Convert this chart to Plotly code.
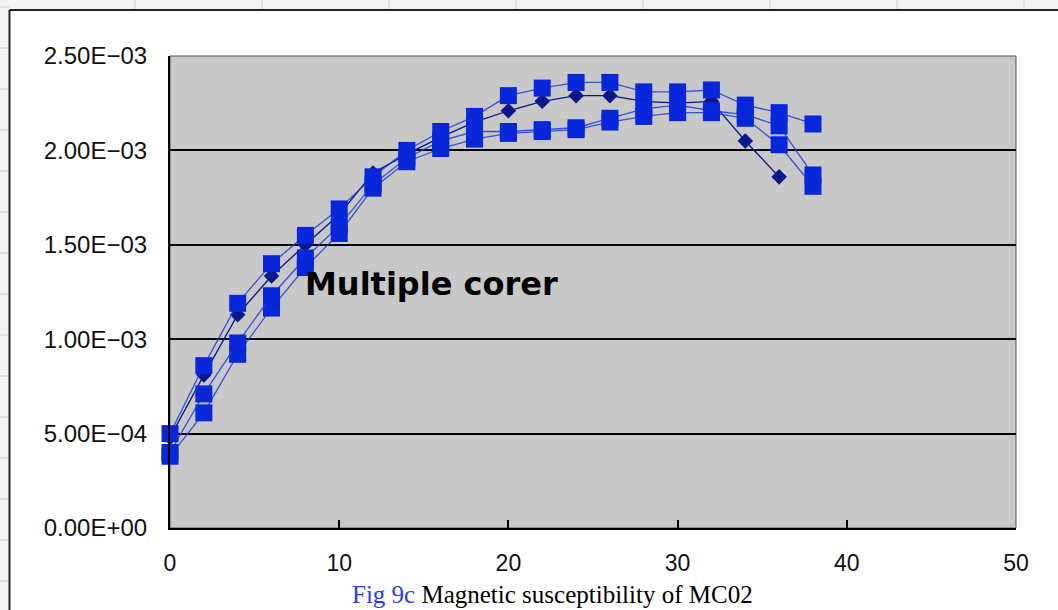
import plotly.graph_objects as go

# Depth (cm) and magnetic susceptibility readings for the MC02 cores
depth = [0, 2, 4, 6, 8, 10, 12, 14, 16, 18, 20, 22, 24, 26, 28, 30, 32, 34, 36, 38]

core_diamond = [0.48e-3, 0.81e-3, 1.13e-3, 1.335e-3, 1.50e-3, 1.66e-3, 1.88e-3, 1.98e-3, 2.07e-3,
                2.15e-3, 2.21e-3, 2.26e-3, 2.29e-3, 2.29e-3, 2.26e-3, 2.25e-3, 2.26e-3, 2.05e-3, 1.86e-3]
core_a = [0.50e-3, 0.86e-3, 1.19e-3, 1.40e-3, 1.55e-3, 1.69e-3, 1.86e-3, 2.00e-3, 2.10e-3, 2.18e-3,
          2.29e-3, 2.33e-3, 2.36e-3, 2.36e-3, 2.31e-3, 2.31e-3, 2.32e-3, 2.24e-3, 2.20e-3, 2.14e-3]
core_b = [0.40e-3, 0.71e-3, 0.98e-3, 1.23e-3, 1.43e-3, 1.60e-3, 1.82e-3, 1.96e-3, 2.05e-3, 2.10e-3,
          2.10e-3, 2.11e-3, 2.12e-3, 2.17e-3, 2.22e-3, 2.24e-3, 2.21e-3, 2.19e-3, 2.13e-3, 1.87e-3]
core_c = [0.38e-3, 0.61e-3, 0.92e-3, 1.165e-3, 1.38e-3, 1.56e-3, 1.80e-3, 1.94e-3, 2.01e-3, 2.06e-3,
          2.09e-3, 2.10e-3, 2.11e-3, 2.15e-3, 2.18e-3, 2.20e-3, 2.20e-3, 2.17e-3, 2.03e-3, 1.81e-3]

y_ticks = [0, 0.5e-3, 1.0e-3, 1.5e-3, 2.0e-3, 2.5e-3]
y_tick_text = ["0.00E+00", "5.00E\u221204", "1.00E\u221203", "1.50E\u221203", "2.00E\u221203", "2.50E\u221203"]
x_ticks = [0, 10, 20, 30, 40, 50]

W, H = 1058, 610
L, R, T, B = 170, 42, 56, 82
PW, PH = W - L - R, H - T - B


def px(xp):
    return (xp - L) / PW


def py(yp):
    return (H - B - yp) / PH


SQ = "rgb(8,38,218)"
SQ_LINE = "rgba(30,60,225,0.85)"
NAVY = "rgb(8,24,140)"

fig = go.Figure()

fig.add_trace(go.Scatter(
    x=depth[:len(core_diamond)], y=core_diamond, mode="lines+markers",
    line=dict(color=NAVY, width=1.3),
    marker=dict(symbol="diamond", size=12, color=NAVY),
    cliponaxis=False, showlegend=False, hoverinfo="skip"))

for series in (core_c, core_b, core_a):
    fig.add_trace(go.Scatter(
        x=depth, y=series, mode="lines+markers",
        line=dict(color=SQ_LINE, width=1.3),
        marker=dict(symbol="square", size=17, color=SQ),
        cliponaxis=False, showlegend=False, hoverinfo="skip"))

shapes = []
# spreadsheet cells behind the chart object
shapes.append(dict(type="rect", xref="paper", yref="paper", x0=px(0), x1=px(W), y0=py(0), y1=py(10),
                   fillcolor="#f3f3f3", line=dict(width=0), layer="below"))
shapes.append(dict(type="rect", xref="paper", yref="paper", x0=px(0), x1=px(9), y0=py(0), y1=py(H),
                   fillcolor="#f3f3f3", line=dict(width=0), layer="below"))
for gx in (135, 262, 389, 516, 643, 770, 897, 1024):
    shapes.append(dict(type="line", xref="paper", yref="paper", x0=px(gx), x1=px(gx), y0=py(0), y1=py(10),
                       line=dict(color="#c8d0d8", width=1)))
for gy in range(7, H, 41):
    shapes.append(dict(type="line", xref="paper", yref="paper", x0=px(0), x1=px(9), y0=py(gy), y1=py(gy),
                       line=dict(color="#c8d0d8", width=1)))
# chart object frame
shapes.append(dict(type="line", xref="paper", yref="paper", x0=px(9.5), x1=px(W), y0=py(10), y1=py(10),
                   line=dict(color="#222", width=2)))
shapes.append(dict(type="line", xref="paper", yref="paper", x0=px(9.5), x1=px(9.5), y0=py(10), y1=py(H),
                   line=dict(color="#222", width=2)))
# plot area border (top / right)
shapes.append(dict(type="rect", xref="paper", yref="paper", x0=0, x1=1, y0=0, y1=1,
                   line=dict(color="#555", width=1), layer="below"))

fig.update_layout(
    width=W, height=H,
    margin=dict(l=L, r=R, t=T, b=B),
    paper_bgcolor="white", plot_bgcolor="rgb(200,200,200)",
    shapes=shapes,
    xaxis=dict(range=[0, 50], tickvals=x_ticks, showgrid=False, zeroline=False,
               showline=True, linecolor="black", linewidth=2,
               ticks="inside", ticklen=8, tickwidth=2, tickcolor="black",
               ticklabelstandoff=13,
               tickfont=dict(family="Liberation Sans", size=23, color="#111")),
    yaxis=dict(range=[0, 2.5e-3], tickvals=y_ticks, ticktext=y_tick_text,
               showgrid=True, gridcolor="black", gridwidth=2, zeroline=False,
               showline=True, linecolor="black", linewidth=2, ticks="",
               ticklabelstandoff=16,
               tickfont=dict(family="Liberation Sans", size=24, color="#111")),
    annotations=[
        dict(x=15.43, y=1.292e-3, xref="x", yref="y", text="<b>Multiple corer</b>", showarrow=False,
             font=dict(family="DejaVu Sans", size=32, color="black"), xanchor="center", yanchor="middle"),
        dict(x=px(552), y=py(594), xref="paper", yref="paper", showarrow=False,
             text="<span style='color:#2a3cf0'>Fig 9c</span> Magnetic susceptibility of MC02",
             font=dict(family="Liberation Serif", size=25, color="black"),
             xanchor="center", yanchor="middle"),
    ],
)

fig.write_html("out.html")
